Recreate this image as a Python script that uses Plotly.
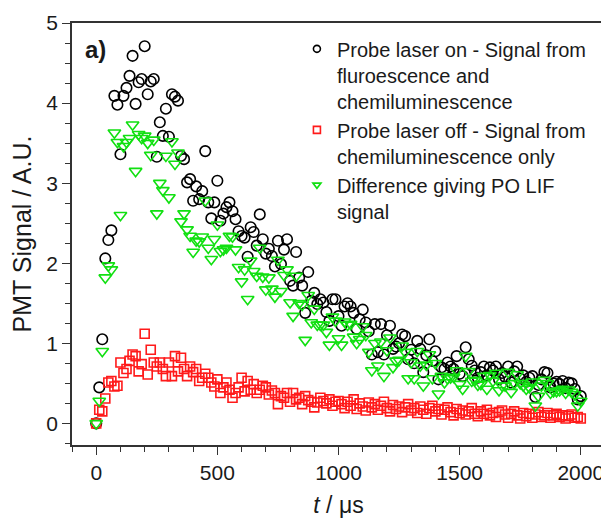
import plotly.graph_objects as go

# time axis (microseconds)
t_us = [0, 12.5, 25, 37.5, 50, 62.5, 75, 87.5, 100, 112.5, 125, 137.5, 150, 162.5, 175, 187.5,
        200, 212.5, 225, 237.5, 250, 262.5, 275, 287.5, 300, 312.5, 325, 337.5, 350, 362.5, 375, 387.5,
        400, 412.5, 425, 437.5, 450, 462.5, 475, 487.5, 500, 512.5, 525, 537.5, 550, 562.5, 575, 587.5,
        600, 612.5, 625, 637.5, 650, 662.5, 675, 687.5, 700, 712.5, 725, 737.5, 750, 762.5, 775, 787.5,
        800, 812.5, 825, 837.5, 850, 862.5, 875, 887.5, 900, 912.5, 925, 937.5, 950, 962.5, 975, 987.5,
        1000, 1012.5, 1025, 1037.5, 1050, 1062.5, 1075, 1087.5, 1100, 1112.5, 1125, 1137.5, 1150, 1162.5, 1175, 1187.5,
        1200, 1212.5, 1225, 1237.5, 1250, 1262.5, 1275, 1287.5, 1300, 1312.5, 1325, 1337.5, 1350, 1362.5, 1375, 1387.5,
        1400, 1412.5, 1425, 1437.5, 1450, 1462.5, 1475, 1487.5, 1500, 1512.5, 1525, 1537.5, 1550, 1562.5, 1575, 1587.5,
        1600, 1612.5, 1625, 1637.5, 1650, 1662.5, 1675, 1687.5, 1700, 1712.5, 1725, 1737.5, 1750, 1762.5, 1775, 1787.5,
        1800, 1812.5, 1825, 1837.5, 1850, 1862.5, 1875, 1887.5, 1900, 1912.5, 1925, 1937.5, 1950, 1962.5, 1975, 1987.5,
        2000]

# Probe laser on - fluorescence + chemiluminescence
laser_on = [0.00, 0.45, 1.05, 2.06, 2.29, 2.41, 4.09, 3.98, 3.36, 4.09, 4.19, 4.34, 4.59, 3.99, 4.26, 4.30,
            4.71, 4.11, 4.27, 4.30, 3.33, 3.76, 3.59, 3.93, 3.58, 4.11, 4.08, 4.03, 3.34, 3.30, 3.01, 3.05,
            2.78, 2.96, 2.80, 2.90, 3.40, 2.76, 2.56, 2.76, 3.03, 2.53, 2.62, 2.70, 2.76, 2.65, 2.55, 2.40,
            2.34, 2.32, 2.08, 2.45, 2.39, 2.22, 2.61, 2.30, 2.12, 2.18, 2.09, 1.96, 2.28, 1.99, 2.17, 2.30,
            1.78, 1.72, 2.14, 1.82, 1.72, 1.38, 1.89, 1.53, 1.63, 1.49, 1.55, 1.51, 1.39, 1.28, 1.55, 1.55,
            1.34, 1.22, 1.46, 1.50, 1.46, 1.38, 1.18, 1.30, 1.42, 1.26, 1.15, 0.86, 1.24, 0.89, 1.24, 0.86,
            1.10, 1.22, 0.93, 0.96, 1.00, 1.11, 1.09, 0.80, 0.92, 0.75, 1.03, 0.93, 0.64, 0.85, 1.05, 0.78,
            0.90, 0.55, 0.70, 0.68, 0.76, 0.71, 0.68, 0.84, 0.62, 0.59, 0.95, 0.80, 0.72, 0.66, 0.57, 0.64,
            0.71, 0.60, 0.70, 0.66, 0.71, 0.55, 0.63, 0.58, 0.71, 0.51, 0.65, 0.71, 0.56, 0.60, 0.52, 0.57,
            0.59, 0.33, 0.48, 0.55, 0.64, 0.63, 0.45, 0.50, 0.52, 0.49, 0.53, 0.44, 0.51, 0.50, 0.43, 0.30,
            0.34]

# Probe laser off - chemiluminescence only
laser_off = [0.00, 0.17, 0.15, 0.31, 0.51, 0.53, 0.46, 0.47, 0.76, 0.63, 0.68, 0.78, 0.86, 0.84, 0.65, 0.74,
             1.12, 0.61, 0.92, 0.76, 0.71, 0.76, 0.68, 0.59, 0.76, 0.59, 0.84, 0.65, 0.82, 0.68, 0.59, 0.71,
             0.64, 0.68, 0.53, 0.57, 0.62, 0.57, 0.51, 0.46, 0.55, 0.38, 0.45, 0.51, 0.42, 0.32, 0.38, 0.45,
             0.57, 0.40, 0.53, 0.42, 0.49, 0.38, 0.42, 0.47, 0.45, 0.36, 0.41, 0.38, 0.24, 0.34, 0.32, 0.38,
             0.27, 0.38, 0.30, 0.32, 0.24, 0.34, 0.29, 0.27, 0.20, 0.26, 0.32, 0.28, 0.25, 0.30, 0.22, 0.27,
             0.28, 0.24, 0.19, 0.27, 0.22, 0.30, 0.18, 0.25, 0.21, 0.16, 0.26, 0.20, 0.24, 0.17, 0.22, 0.27,
             0.19, 0.15, 0.23, 0.18, 0.21, 0.14, 0.20, 0.24, 0.16, 0.19, 0.13, 0.21, 0.17, 0.12, 0.19, 0.22,
             0.15, 0.18, 0.11, 0.17, 0.20, 0.14, 0.10, 0.18, 0.13, 0.16, 0.11, 0.15, 0.19, 0.12, 0.09, 0.15,
             0.12, 0.17, 0.10, 0.13, 0.08, 0.14, 0.16, 0.11, 0.07, 0.12, 0.15, 0.10, 0.06, 0.13, 0.09, 0.12,
             0.07, 0.11, 0.14, 0.08, 0.10, 0.13, 0.07, 0.10, 0.12, 0.08, 0.10, 0.06, 0.09, 0.11, 0.07, 0.08,
             0.06]

# Difference giving PO LIF signal
difference = [0.00, 0.28, 0.90, 1.82, 1.97, 1.92, 3.63, 3.51, 2.60, 3.46, 3.51, 3.56, 3.73, 3.15, 3.61, 3.56,
              3.59, 3.50, 3.35, 3.54, 2.62, 3.00, 2.91, 3.34, 2.82, 3.52, 3.24, 3.38, 2.52, 2.62, 2.42, 2.34,
              2.14, 2.28, 2.27, 2.33, 2.78, 2.19, 2.05, 2.30, 2.48, 2.15, 2.17, 2.19, 2.34, 2.33, 2.17, 1.95,
              1.77, 1.92, 1.55, 2.03, 1.90, 1.84, 2.19, 1.83, 1.67, 1.82, 1.68, 1.58, 2.04, 1.65, 1.85, 1.92,
              1.51, 1.34, 1.84, 1.50, 1.48, 1.04, 1.60, 1.26, 1.43, 1.23, 1.23, 1.23, 1.14, 0.98, 1.33, 1.28,
              1.06, 0.98, 1.27, 1.23, 1.24, 1.08, 1.00, 1.05, 1.21, 1.10, 0.89, 0.66, 1.00, 0.72, 1.02, 0.59,
              0.91, 1.07, 0.70, 0.78, 0.79, 0.97, 0.89, 0.56, 0.76, 0.56, 0.90, 0.72, 0.47, 0.73, 0.86, 0.56,
              0.75, 0.37, 0.59, 0.51, 0.56, 0.57, 0.58, 0.66, 0.49, 0.43, 0.84, 0.65, 0.53, 0.54, 0.48, 0.49,
              0.59, 0.43, 0.60, 0.53, 0.63, 0.41, 0.47, 0.47, 0.64, 0.39, 0.50, 0.61, 0.50, 0.47, 0.43, 0.45,
              0.52, 0.22, 0.34, 0.47, 0.54, 0.50, 0.38, 0.40, 0.40, 0.41, 0.43, 0.38, 0.42, 0.39, 0.36, 0.22,
              0.28]

series_names = [
    "Probe laser on - Signal from<br>fluroescence and<br>chemiluminescence",
    "Probe laser off - Signal from<br>chemiluminescence only",
    "Difference giving PO LIF<br>signal",
]

FONT = "Liberation Sans, Arial, sans-serif"
BLACK = "#000000"
RED = "#ff1a1a"
GREEN = "#11e011"

fig = go.Figure()

styles = [
    (laser_on, "circle-open", BLACK, 10.5),
    (laser_off, "square-open", RED, 9),
    (difference, "triangle-down-open", GREEN, 11),
]
for (vals, sym, col, sz) in styles:
    fig.add_trace(go.Scatter(
        x=t_us, y=vals, mode="markers", showlegend=False,
        marker=dict(symbol=sym, size=sz, color=col, line=dict(width=1.6, color=col)),
    ))

# legend entries (smaller symbols as in the original)
for (vals, sym, col, sz), name in zip(styles, series_names):
    fig.add_trace(go.Scatter(
        x=[None], y=[None], mode="markers", name=name,
        marker=dict(symbol=sym, size=7, color=col, line=dict(width=1.6, color=col)),
    ))

axis_common = dict(
    showline=True, linecolor="#333333", linewidth=1.5, mirror=True,
    ticks="outside", ticklen=8, tickwidth=1.2, tickcolor="#333333",
    showgrid=False, zeroline=False,
    tickfont=dict(family=FONT, size=21, color="#1a1a1a"),
)

fig.update_xaxes(
    **axis_common,
    range=[-100, 2100], tickvals=[0, 500, 1000, 1500, 2000],
    minor=dict(dtick=100, tick0=0, ticks="outside", ticklen=5, tickcolor="#333333", tickwidth=1.2),
    title=dict(text="<i>t</i> / μs", font=dict(family=FONT, size=23, color="#1a1a1a"), standoff=14),
)
fig.update_yaxes(
    **axis_common,
    range=[-0.27, 5], tickvals=[0, 1, 2, 3, 4, 5],
    minor=dict(dtick=0.25, tick0=0, ticks="outside", ticklen=5, tickcolor="#333333", tickwidth=1.2),
    title=dict(text="PMT Signal / A.U.", font=dict(family=FONT, size=25, color="#1a1a1a"), standoff=8),
)

fig.add_annotation(
    text="<b>a)</b>", xref="paper", yref="paper", x=0.021, y=0.975,
    xanchor="left", yanchor="top", showarrow=False,
    font=dict(family=FONT, size=24, color="#1a1a1a"),
)

# the page body adds an 8 px margin, so the figure is 8 px smaller
fig.update_layout(
    width=601, height=520,
    margin=dict(l=64, r=2, t=15, b=83),
    paper_bgcolor="white", plot_bgcolor="white",
    font=dict(family=FONT, color="#1a1a1a"),
    legend=dict(
        x=0.422, y=0.985, xanchor="left", yanchor="top",
        bgcolor="rgba(0,0,0,0)", borderwidth=0,
        font=dict(family=FONT, size=20, color="#1a1a1a"),
        valign="top", tracegroupgap=0, itemwidth=30,
    ),
)

fig.write_html("out.html")
